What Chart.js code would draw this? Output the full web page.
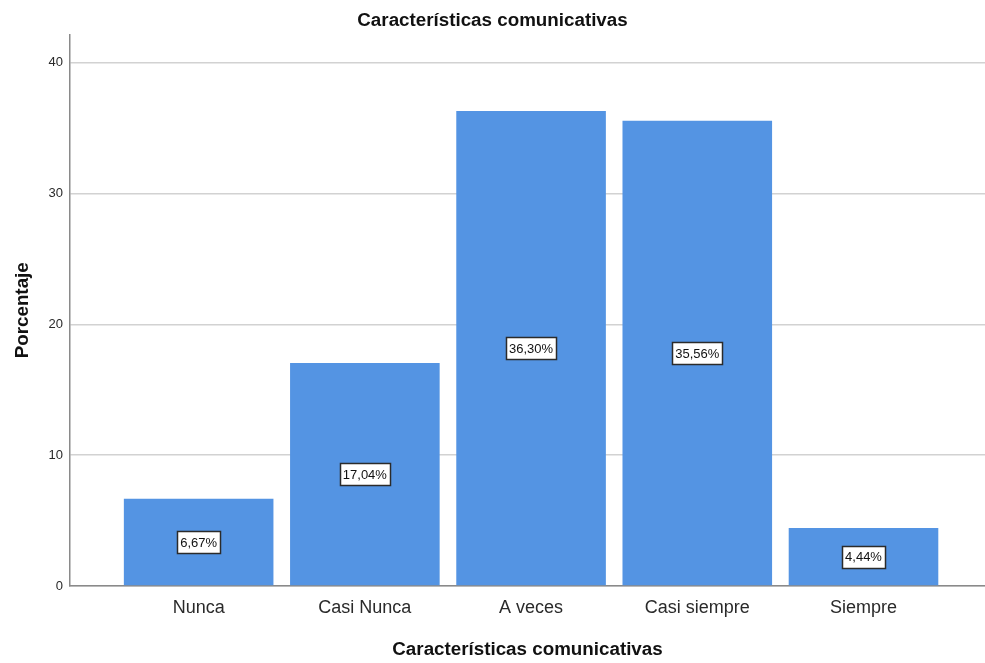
<!DOCTYPE html>
<html>
<head>
<meta charset="utf-8">
<script src="https://cdn.jsdelivr.net/npm/chart.js@4"></script>
<style>
  html, body { margin: 0; padding: 0; background: #ffffff; }
  #wrap { width: 985px; height: 663px; }
</style>
</head>
<body>
<div id="wrap"><canvas id="chart" width="985" height="663"></canvas></div>
<script>
// Response categories and their percentages
const categories = ['Nunca', 'Casi Nunca', 'A veces', 'Casi siempre', 'Siempre'];
const percentages = [6.67, 17.04, 36.30, 35.56, 4.44];
const yTickValues = [0, 10, 20, 30, 40];
const chartTitle = 'Características comunicativas';
const xAxisTitle = 'Características comunicativas';
const yAxisTitle = 'Porcentaje';

const FONT = "'Liberation Sans', Arial, sans-serif";

function formatPct(v) {
  return v.toFixed(2).replace('.', ',') + '%';
}

// Boxed value labels centred inside each bar
const boxedLabels = {
  id: 'boxedLabels',
  afterDatasetsDraw(chart) {
    const ctx = chart.ctx;
    const meta = chart.getDatasetMeta(0);
    ctx.save();
    ctx.font = '13px ' + FONT;
    ctx.textAlign = 'center';
    ctx.textBaseline = 'middle';
    meta.data.forEach((bar, i) => {
      const text = formatPct(percentages[i]);
      const cx = bar.x;
      const cy = (bar.y + bar.base) / 2;
      const w = ctx.measureText(text).width + 6;
      const h = 22;
      const x0 = Math.round(cx - w / 2) + 0.5;
      const y0 = Math.round(cy - h / 2) + 0.5;
      ctx.fillStyle = '#ffffff';
      ctx.fillRect(x0, y0, Math.round(w), h);
      ctx.strokeStyle = '#2b2b2b';
      ctx.lineWidth = 1.5;
      ctx.strokeRect(x0, y0, Math.round(w), h);
      ctx.fillStyle = '#111111';
      ctx.fillText(text, cx, cy + 1);
    });
    ctx.restore();
  }
};

new Chart(document.getElementById('chart'), {
  type: 'bar',
  data: {
    datasets: [{
      data: percentages.map((v, i) => ({ x: i, y: v })),
      backgroundColor: '#5494e3',
      borderWidth: 0,
      barPercentage: 0.9,
      categoryPercentage: 1.0
    }]
  },
  options: {
    responsive: false,
    animation: false,
    devicePixelRatio: 1,
    layout: { padding: { left: 0, right: 0, top: 0, bottom: 0 } },
    plugins: {
      legend: { display: false },
      tooltip: { enabled: false },
      title: {
        display: true,
        text: chartTitle,
        color: '#111111',
        font: { family: FONT, size: 18.8, weight: 'bold' },
        padding: { top: 10, bottom: 2 }
      }
    },
    scales: {
      x: {
        type: 'linear',
        offset: false,
        min: -0.774,
        max: 4.731,
        afterBuildTicks(scale) {
          scale.ticks = categories.map((c, i) => ({ value: i }));
        },
        afterFit(scale) { scale.height = 77; },
        grid: { display: false, drawTicks: false, offset: false },
        border: { display: true, color: '#8a8a8a', width: 1.5 },
        ticks: {
          autoSkip: false,
          maxRotation: 0,
          padding: 11,
          color: '#2a2a2a',
          font: { family: FONT, size: 18 },
          callback: (v) => categories[v]
        },
        title: {
          display: true,
          text: xAxisTitle,
          color: '#111111',
          font: { family: FONT, size: 18.8, weight: 'bold' },
          padding: { top: 0, bottom: 2 }
        }
      },
      y: {
        min: 0,
        max: 42.14,
        afterBuildTicks(scale) {
          scale.ticks = yTickValues.map(v => ({ value: v }));
        },
        afterFit(scale) { scale.width = 70; },
        grid: { color: '#d2d2d2', lineWidth: 1.5, drawTicks: false },
        border: { display: true, color: '#8a8a8a', width: 1.5 },
        ticks: {
          padding: 7,
          color: '#2a2a2a',
          font: { family: FONT, size: 13 }
        },
        title: {
          display: true,
          text: yAxisTitle,
          color: '#111111',
          font: { family: FONT, size: 18.8, weight: 'bold' },
          padding: { top: 12, bottom: 0 }
        }
      }
    }
  },
  plugins: [boxedLabels]
});
</script>
</body>
</html>
